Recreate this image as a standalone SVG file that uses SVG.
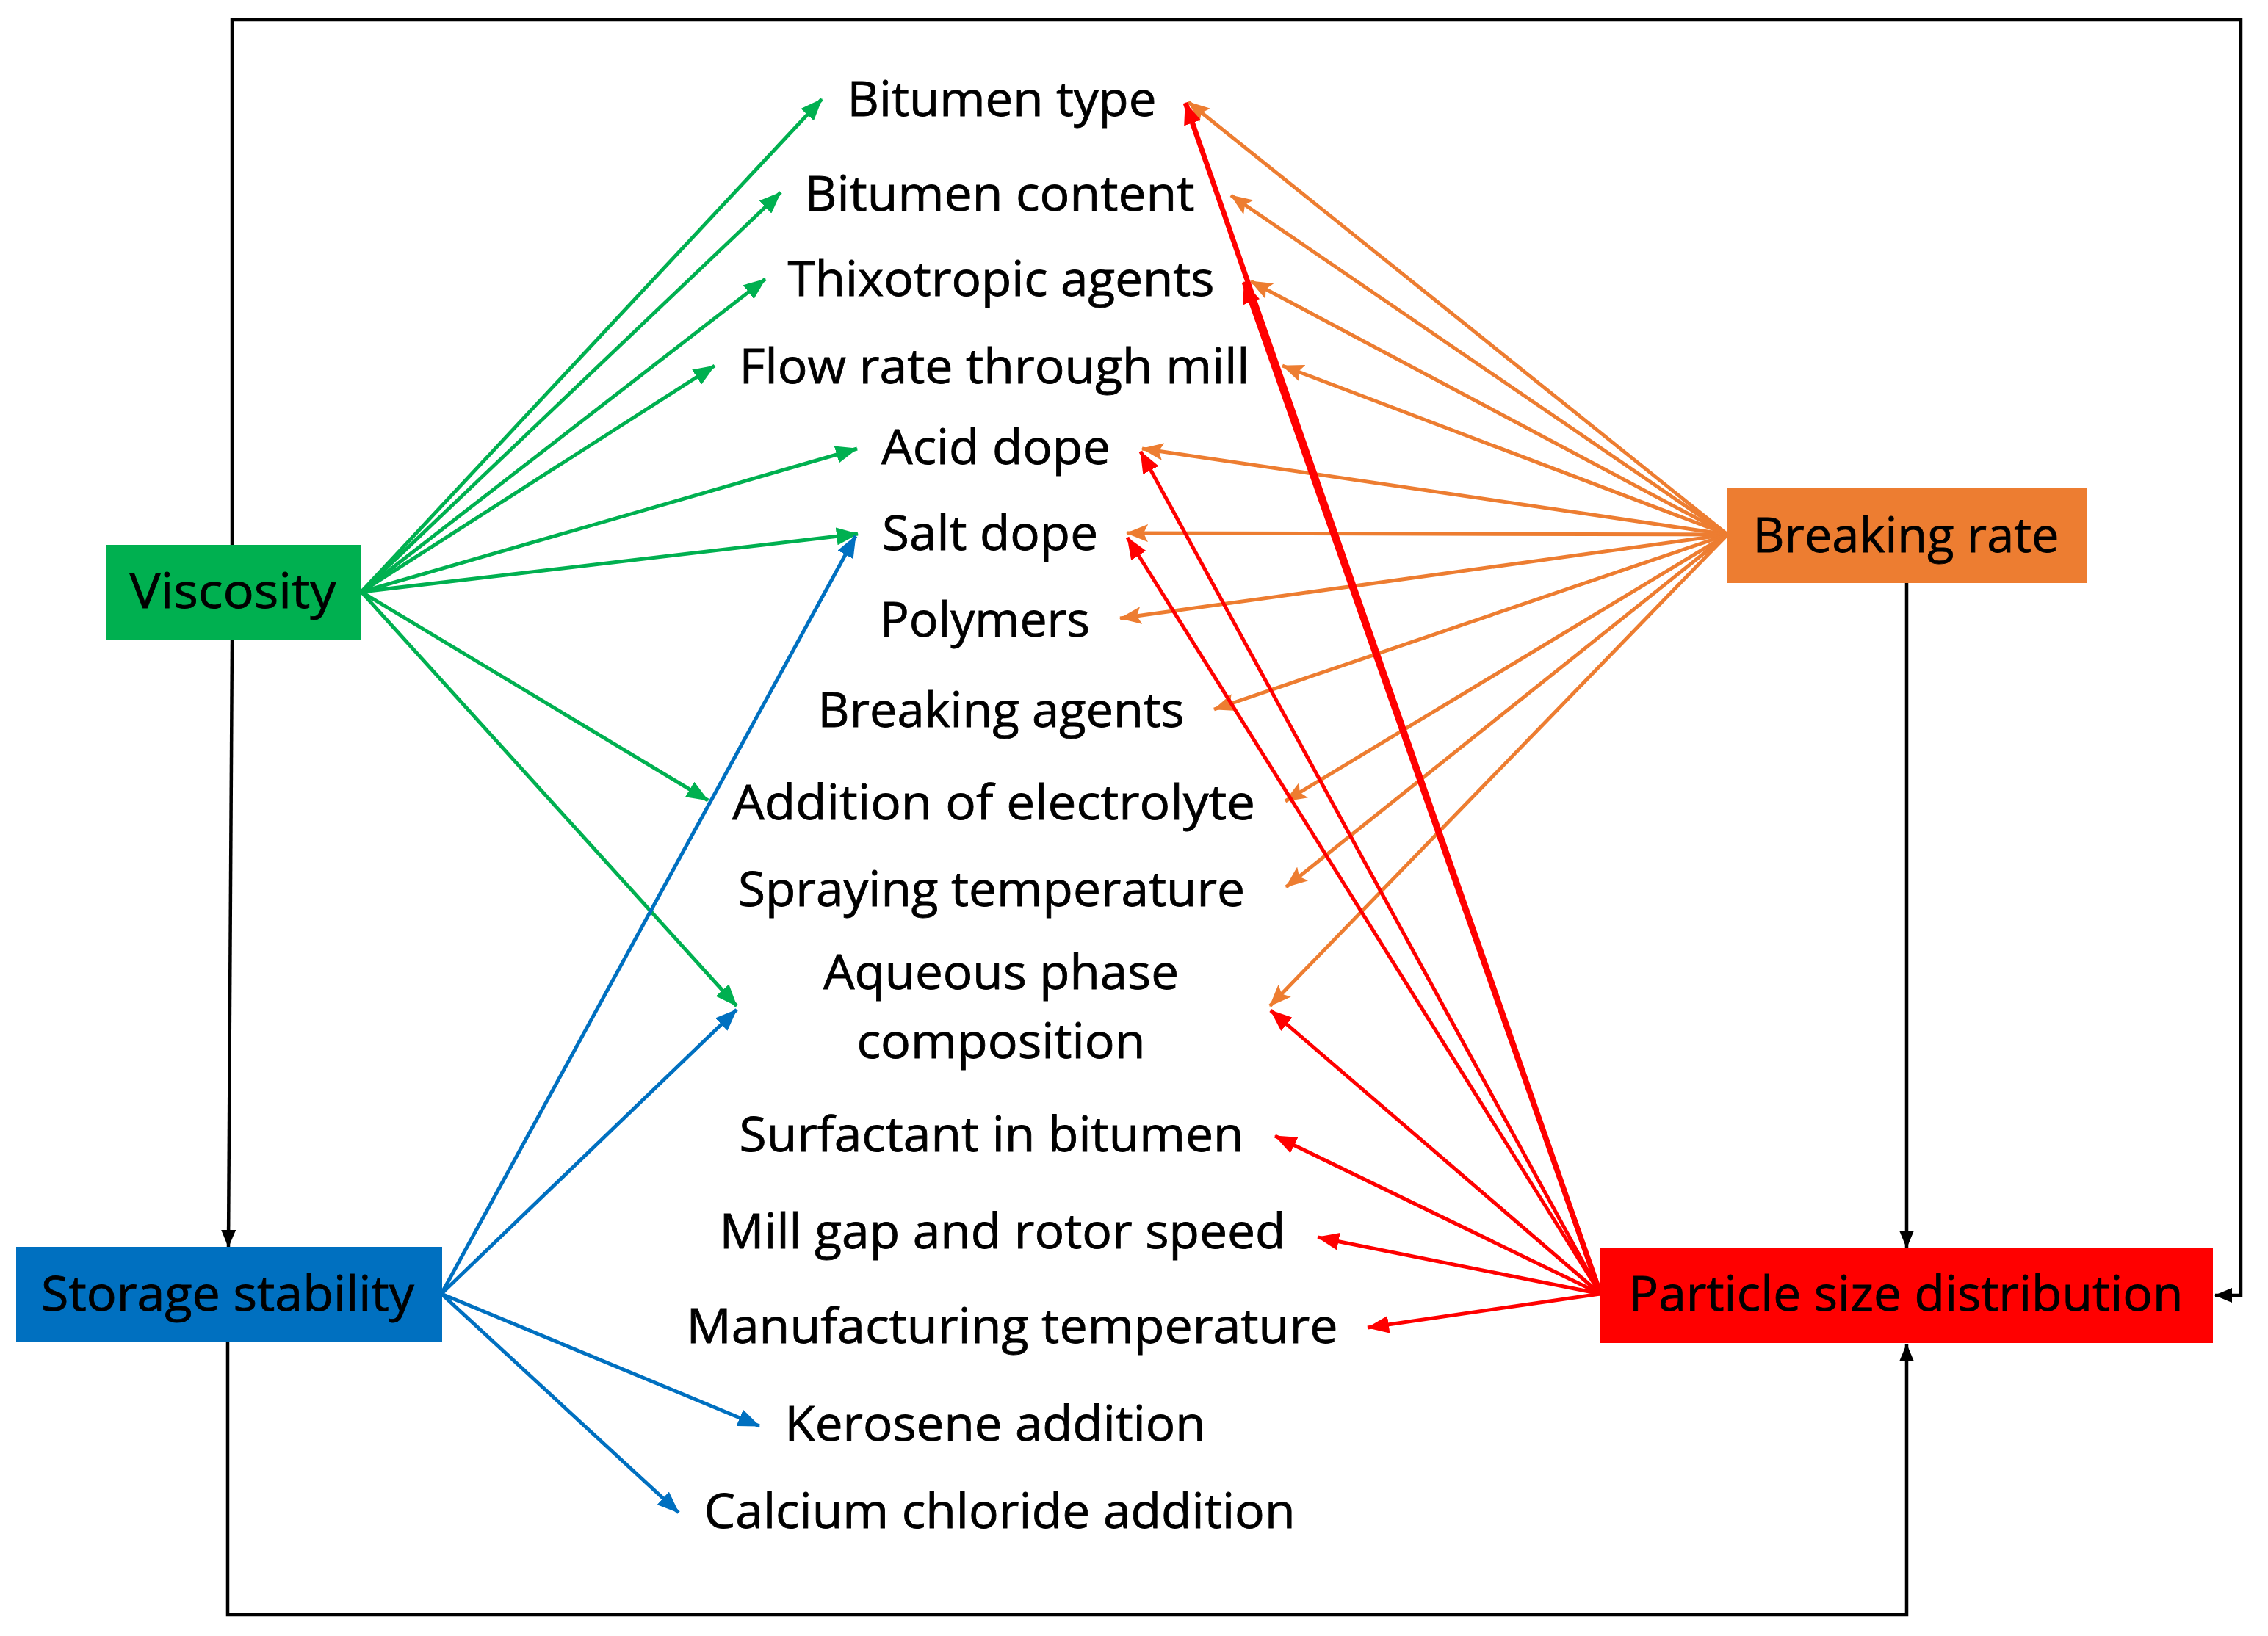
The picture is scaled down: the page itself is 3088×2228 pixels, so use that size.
<svg xmlns="http://www.w3.org/2000/svg" width="3088" height="2228" viewBox="0 0 3088 2228">
<style>
text{font-family:"Open Sans","Segoe UI","Liberation Sans",sans-serif;font-size:65px;fill:#000;stroke:#000;stroke-width:0.8;text-anchor:middle}
.g{stroke:#00B050;stroke-width:5;fill:none;marker-end:url(#mg)}
.b{stroke:#0070C0;stroke-width:5;fill:none;marker-end:url(#mb)}
.o{stroke:#ED7D31;stroke-width:5;fill:none;marker-end:url(#mo)}
.r{stroke:#FF0000;stroke-width:5;fill:none;marker-end:url(#mr)}
.rt{stroke:#FF0000;stroke-width:7;fill:none;marker-end:url(#mr)}
.k{stroke:#000;stroke-width:4.5;fill:none;marker-end:url(#mk)}
</style>
<defs>
<marker id="mg" markerUnits="userSpaceOnUse" markerWidth="30" markerHeight="24" refX="29" refY="12" orient="auto"><path d="M0,0 L30,12 L0,24 z" fill="#00B050"/></marker>
<marker id="mb" markerUnits="userSpaceOnUse" markerWidth="30" markerHeight="24" refX="29" refY="12" orient="auto"><path d="M0,0 L30,12 L0,24 z" fill="#0070C0"/></marker>
<marker id="mo" markerUnits="userSpaceOnUse" markerWidth="30" markerHeight="24" refX="29" refY="12" orient="auto"><path d="M0,0 L30,12 L0,24 L6,12 z" fill="#ED7D31"/></marker>
<marker id="mr" markerUnits="userSpaceOnUse" markerWidth="30" markerHeight="24" refX="29" refY="12" orient="auto"><path d="M0,0 L30,12 L0,24 z" fill="#FF0000"/></marker>
<marker id="mk" markerUnits="userSpaceOnUse" markerWidth="24" markerHeight="20" refX="23" refY="10" orient="auto"><path d="M0,0 L24,10 L0,20 z" fill="#000"/></marker>
</defs>
<g id="connectors">
<path class="k" d="M316,742 V27 H3051 V1764 H3016"/>
<path class="k" d="M316,872 L311,1698"/>
<path class="k" d="M310,1828 V2199 H2596 V1831"/>
<path class="k" d="M2596,794 V1699"/>
<path class="g" d="M492,806 L1119,135"/>
<path class="g" d="M492,806 L1063,262"/>
<path class="g" d="M492,806 L1042,380"/>
<path class="g" d="M492,806 L973,498"/>
<path class="g" d="M492,806 L1167,611"/>
<path class="g" d="M492,806 L1168,727"/>
<path class="g" d="M492,806 L964,1090"/>
<path class="g" d="M492,806 L1003,1370"/>
<path class="b" d="M601,1762 L1165,730"/>
<path class="b" d="M601,1762 L1003,1375"/>
<path class="b" d="M601,1762 L1034,1942"/>
<path class="b" d="M601,1762 L924,2060"/>
<path class="o" d="M2352,728 L1618,139"/>
<path class="o" d="M2352,728 L1676,266"/>
<path class="o" d="M2352,728 L1703,383"/>
<path class="o" d="M2352,728 L1746,498"/>
<path class="o" d="M2352,728 L1555,611"/>
<path class="o" d="M2352,728 L1534,726"/>
<path class="o" d="M2352,728 L1525,842"/>
<path class="o" d="M2352,728 L1653,966"/>
<path class="o" d="M2352,728 L1750,1091"/>
<path class="o" d="M2352,728 L1751,1208"/>
<path class="o" d="M2352,728 L1729,1370"/>
<path class="rt" d="M2179,1762 L1614,140"/>
<path class="rt" d="M2179,1762 L1694,384"/>
<path class="r" d="M2179,1762 L1553,615"/>
<path class="r" d="M2179,1762 L1535,732"/>
<path class="r" d="M2179,1762 L1730,1376"/>
<path class="r" d="M2179,1762 L1736,1547"/>
<path class="r" d="M2179,1762 L1794,1685"/>
<path class="r" d="M2179,1762 L1862,1808"/>
</g>
<g id="viscosity"><rect x="144" y="742" width="347" height="130" fill="#00B050"/><text x="317" y="828" textLength="281" lengthAdjust="spacingAndGlyphs">Viscosity</text></g>
<g id="storage-stability"><rect x="22" y="1698" width="580" height="130" fill="#0070C0"/><text x="310" y="1785" textLength="508" lengthAdjust="spacingAndGlyphs">Storage stability</text></g>
<g id="breaking-rate"><rect x="2352" y="665" width="490" height="129" fill="#ED7D31"/><text x="2595" y="752" textLength="417" lengthAdjust="spacingAndGlyphs">Breaking rate</text></g>
<g id="particle-size-distribution"><rect x="2179" y="1700" width="834" height="129" fill="#FF0000"/><text x="2595" y="1785" textLength="755" lengthAdjust="spacingAndGlyphs">Particle size distribution</text></g>
<g id="bitumen-type"><text x="1364" y="158" textLength="421" lengthAdjust="spacingAndGlyphs">Bitumen type</text></g>
<g id="bitumen-content"><text x="1361" y="287" textLength="531" lengthAdjust="spacingAndGlyphs">Bitumen content</text></g>
<g id="thixotropic-agents"><text x="1363" y="403" textLength="581" lengthAdjust="spacingAndGlyphs">Thixotropic agents</text></g>
<g id="flow-rate"><text x="1354" y="522" textLength="695" lengthAdjust="spacingAndGlyphs">Flow rate through mill</text></g>
<g id="acid-dope"><text x="1356" y="632" textLength="312" lengthAdjust="spacingAndGlyphs">Acid dope</text></g>
<g id="salt-dope"><text x="1348" y="749" textLength="294" lengthAdjust="spacingAndGlyphs">Salt dope</text></g>
<g id="polymers"><text x="1341" y="867" textLength="286" lengthAdjust="spacingAndGlyphs">Polymers</text></g>
<g id="breaking-agents"><text x="1363" y="990" textLength="499" lengthAdjust="spacingAndGlyphs">Breaking agents</text></g>
<g id="addition-of-electrolyte"><text x="1353" y="1116" textLength="712" lengthAdjust="spacingAndGlyphs">Addition of electrolyte</text></g>
<g id="spraying-temperature"><text x="1350" y="1234" textLength="690" lengthAdjust="spacingAndGlyphs">Spraying temperature</text></g>
<g id="aqueous-phase-composition"><text x="1363" y="1347" textLength="484" lengthAdjust="spacingAndGlyphs">Aqueous phase</text><text x="1363" y="1441" textLength="393" lengthAdjust="spacingAndGlyphs">composition</text></g>
<g id="surfactant-in-bitumen"><text x="1350" y="1568" textLength="687" lengthAdjust="spacingAndGlyphs">Surfactant in bitumen</text></g>
<g id="mill-gap"><text x="1365" y="1700" textLength="771" lengthAdjust="spacingAndGlyphs">Mill gap and rotor speed</text></g>
<g id="manufacturing-temperature"><text x="1378" y="1829" textLength="887" lengthAdjust="spacingAndGlyphs">Manufacturing temperature</text></g>
<g id="kerosene-addition"><text x="1355" y="1962" textLength="573" lengthAdjust="spacingAndGlyphs">Kerosene addition</text></g>
<g id="calcium-chloride-addition"><text x="1361" y="2081" textLength="805" lengthAdjust="spacingAndGlyphs">Calcium chloride addition</text></g>
</svg>
